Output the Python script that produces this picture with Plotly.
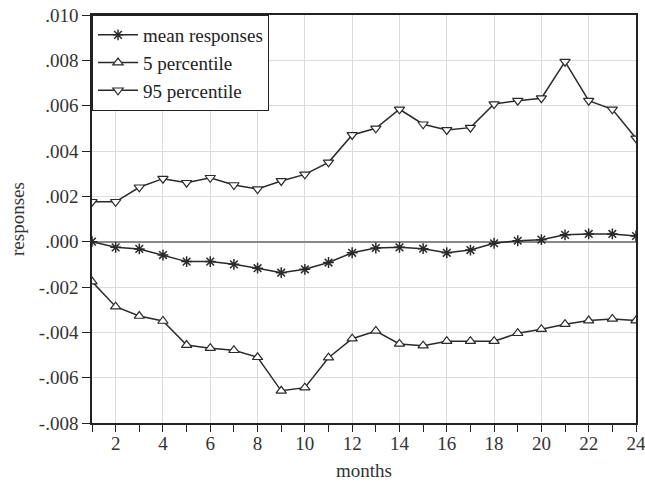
import plotly.graph_objects as go

months = list(range(1, 25))
mean_responses = [0.0, -0.25, -0.32, -0.59, -0.88, -0.88, -1.00, -1.17, -1.37, -1.22, -0.92, -0.49,
                  -0.28, -0.25, -0.31, -0.49, -0.37, -0.07, 0.04, 0.09, 0.30, 0.34, 0.34, 0.25]
p5 = [-1.76, -2.87, -3.28, -3.50, -4.56, -4.70, -4.79, -5.10, -6.58, -6.44, -5.12, -4.28,
      -3.94, -4.51, -4.59, -4.39, -4.39, -4.39, -4.04, -3.86, -3.64, -3.48, -3.41, -3.48]
p95 = [1.76, 1.76, 2.40, 2.78, 2.60, 2.82, 2.50, 2.32, 2.68, 2.97, 3.50, 4.71,
       5.00, 5.84, 5.18, 4.93, 5.03, 6.07, 6.22, 6.33, 7.94, 6.22, 5.84, 4.56]
mean_responses = [v / 1000 for v in mean_responses]
p5 = [v / 1000 for v in p5]
p95 = [v / 1000 for v in p95]

y_tickvals = [0.010, 0.008, 0.006, 0.004, 0.002, 0.0, -0.002, -0.004, -0.006, -0.008]
y_ticktext = [".010", ".008", ".006", ".004", ".002", ".000", "-.002", "-.004", "-.006", "-.008"]
x_tickvals = list(range(2, 25, 2))

font = "Liberation Serif"
ink = "#2a2a2a"
txt = dict(family=font, size=19, color="#333")
legtxt = dict(family=font, size=19, color="#222")

fig = go.Figure()
fig.add_trace(go.Scatter(
    x=months, y=mean_responses, name="mean responses", mode="lines+markers",
    line=dict(color=ink, width=1.5),
    marker=dict(symbol="asterisk-open", size=9, color=ink, line=dict(color=ink, width=1.5)),
))
fig.add_trace(go.Scatter(
    x=months, y=p5, name="5 percentile", mode="lines+markers",
    line=dict(color=ink, width=1.5),
    marker=dict(symbol="triangle-up", size=9, color="white", line=dict(color=ink, width=1.2)),
))
fig.add_trace(go.Scatter(
    x=months, y=p95, name="95 percentile", mode="lines+markers",
    line=dict(color=ink, width=1.5),
    marker=dict(symbol="triangle-down", size=9, color="white", line=dict(color=ink, width=1.2)),
))

fig.update_layout(
    width=645, height=485,
    margin=dict(l=92, r=9, t=15, b=62),
    paper_bgcolor="white", plot_bgcolor="white",
    font=txt,
    showlegend=True,
    legend=dict(x=0, y=1, xanchor="left", yanchor="top",
                bgcolor="white", bordercolor="#222", borderwidth=1,
                font=legtxt, tracegroupgap=0, itemwidth=40, entrywidth=170),
    annotations=[
        dict(text="months", xref="paper", yref="paper", x=0.5, y=0, yshift=-47,
             xanchor="center", yanchor="middle", showarrow=False, font=txt),
        dict(text="responses", xref="paper", yref="paper", x=0, y=0.5, xshift=-75,
             xanchor="center", yanchor="middle", textangle=-90, showarrow=False, font=txt),
    ],
)
fig.update_xaxes(
    range=[1, 24], tickvals=x_tickvals, ticks="outside", ticklen=7, tickcolor="#222",
    tickfont=txt, automargin=False, ticklabeloverflow="allow", ticklabelstandoff=-5,
    showline=True, linecolor="#222", linewidth=1.5, mirror=True,
    showgrid=True, gridcolor="#dcdcdc", gridwidth=1, zeroline=False,
    minor=dict(dtick=1, tick0=1, ticks="outside", ticklen=7, tickcolor="#222", showgrid=False),
)
fig.update_yaxes(
    range=[-0.008, 0.010], tickvals=y_tickvals, ticktext=y_ticktext,
    ticks="outside", ticklen=8, tickcolor="#222", tickfont=txt, automargin=False,
    showline=True, linecolor="#222", linewidth=1.5, mirror=True,
    showgrid=True, gridcolor="#dcdcdc", gridwidth=1,
    zeroline=True, zerolinecolor="#888", zerolinewidth=2,
)

fig.write_html("out.html", config={"displayModeBar": False},
               post_script="document.body.style.margin='0';document.body.style.overflow='hidden';")
